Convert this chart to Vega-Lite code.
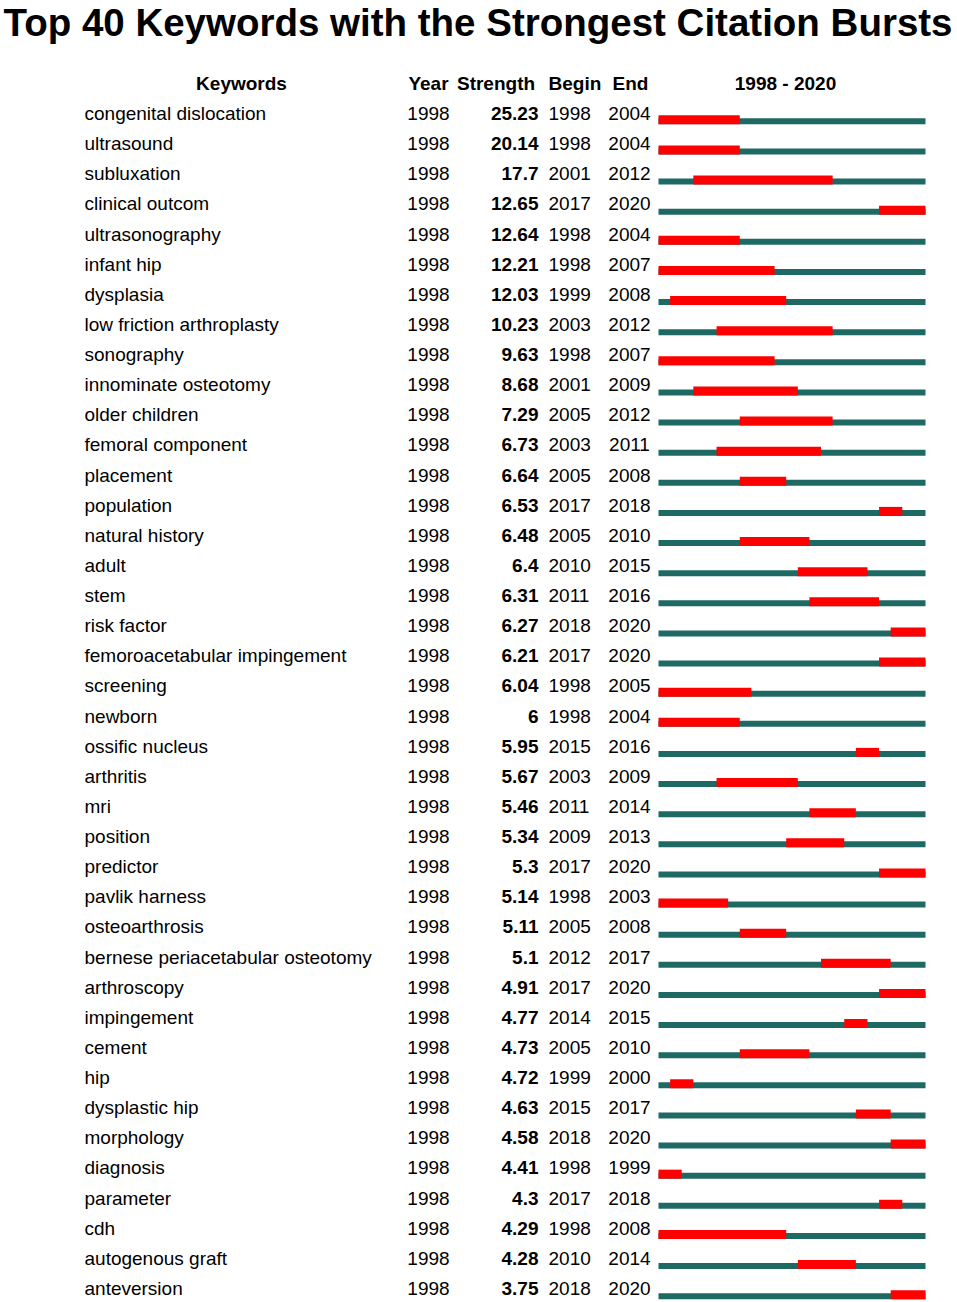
{
  "$schema": "https://vega.github.io/schema/vega-lite/v6.json",
  "padding": {"left": 2.5, "top": 4, "right": 0, "bottom": 0},
  "title": {"text": "Top 40 Keywords with the Strongest Citation Bursts", "font": "Liberation Sans", "fontSize": 38.5, "fontWeight": "bold", "color": "#000000", "anchor": "middle", "dx": -27, "offset": 31},
  "data": {"values": [
    {"Keyword": "congenital dislocation", "Year": 1998, "Strength": "25.23", "Begin": 1998, "End": 2004},
    {"Keyword": "ultrasound", "Year": 1998, "Strength": "20.14", "Begin": 1998, "End": 2004},
    {"Keyword": "subluxation", "Year": 1998, "Strength": "17.7", "Begin": 2001, "End": 2012},
    {"Keyword": "clinical outcom", "Year": 1998, "Strength": "12.65", "Begin": 2017, "End": 2020},
    {"Keyword": "ultrasonography", "Year": 1998, "Strength": "12.64", "Begin": 1998, "End": 2004},
    {"Keyword": "infant hip", "Year": 1998, "Strength": "12.21", "Begin": 1998, "End": 2007},
    {"Keyword": "dysplasia", "Year": 1998, "Strength": "12.03", "Begin": 1999, "End": 2008},
    {"Keyword": "low friction arthroplasty", "Year": 1998, "Strength": "10.23", "Begin": 2003, "End": 2012},
    {"Keyword": "sonography", "Year": 1998, "Strength": "9.63", "Begin": 1998, "End": 2007},
    {"Keyword": "innominate osteotomy", "Year": 1998, "Strength": "8.68", "Begin": 2001, "End": 2009},
    {"Keyword": "older children", "Year": 1998, "Strength": "7.29", "Begin": 2005, "End": 2012},
    {"Keyword": "femoral component", "Year": 1998, "Strength": "6.73", "Begin": 2003, "End": 2011},
    {"Keyword": "placement", "Year": 1998, "Strength": "6.64", "Begin": 2005, "End": 2008},
    {"Keyword": "population", "Year": 1998, "Strength": "6.53", "Begin": 2017, "End": 2018},
    {"Keyword": "natural history", "Year": 1998, "Strength": "6.48", "Begin": 2005, "End": 2010},
    {"Keyword": "adult", "Year": 1998, "Strength": "6.4", "Begin": 2010, "End": 2015},
    {"Keyword": "stem", "Year": 1998, "Strength": "6.31", "Begin": 2011, "End": 2016},
    {"Keyword": "risk factor", "Year": 1998, "Strength": "6.27", "Begin": 2018, "End": 2020},
    {"Keyword": "femoroacetabular impingement", "Year": 1998, "Strength": "6.21", "Begin": 2017, "End": 2020},
    {"Keyword": "screening", "Year": 1998, "Strength": "6.04", "Begin": 1998, "End": 2005},
    {"Keyword": "newborn", "Year": 1998, "Strength": "6", "Begin": 1998, "End": 2004},
    {"Keyword": "ossific nucleus", "Year": 1998, "Strength": "5.95", "Begin": 2015, "End": 2016},
    {"Keyword": "arthritis", "Year": 1998, "Strength": "5.67", "Begin": 2003, "End": 2009},
    {"Keyword": "mri", "Year": 1998, "Strength": "5.46", "Begin": 2011, "End": 2014},
    {"Keyword": "position", "Year": 1998, "Strength": "5.34", "Begin": 2009, "End": 2013},
    {"Keyword": "predictor", "Year": 1998, "Strength": "5.3", "Begin": 2017, "End": 2020},
    {"Keyword": "pavlik harness", "Year": 1998, "Strength": "5.14", "Begin": 1998, "End": 2003},
    {"Keyword": "osteoarthrosis", "Year": 1998, "Strength": "5.11", "Begin": 2005, "End": 2008},
    {"Keyword": "bernese periacetabular osteotomy", "Year": 1998, "Strength": "5.1", "Begin": 2012, "End": 2017},
    {"Keyword": "arthroscopy", "Year": 1998, "Strength": "4.91", "Begin": 2017, "End": 2020},
    {"Keyword": "impingement", "Year": 1998, "Strength": "4.77", "Begin": 2014, "End": 2015},
    {"Keyword": "cement", "Year": 1998, "Strength": "4.73", "Begin": 2005, "End": 2010},
    {"Keyword": "hip", "Year": 1998, "Strength": "4.72", "Begin": 1999, "End": 2000},
    {"Keyword": "dysplastic hip", "Year": 1998, "Strength": "4.63", "Begin": 2015, "End": 2017},
    {"Keyword": "morphology", "Year": 1998, "Strength": "4.58", "Begin": 2018, "End": 2020},
    {"Keyword": "diagnosis", "Year": 1998, "Strength": "4.41", "Begin": 1998, "End": 1999},
    {"Keyword": "parameter", "Year": 1998, "Strength": "4.3", "Begin": 2017, "End": 2018},
    {"Keyword": "cdh", "Year": 1998, "Strength": "4.29", "Begin": 1998, "End": 2008},
    {"Keyword": "autogenous graft", "Year": 1998, "Strength": "4.28", "Begin": 2010, "End": 2014},
    {"Keyword": "anteversion", "Year": 1998, "Strength": "3.75", "Begin": 2018, "End": 2020}
  ]},
  "spacing": 0,
  "hconcat": [
    {
      "width": 319, "height": 1205,
      "title": {"text": "Keywords", "anchor": "middle", "dx": -2.5},
      "mark": {"type": "text", "align": "left", "baseline": "middle"},
      "encoding": {
        "y": {"field": "Keyword", "type": "nominal", "sort": null, "axis": null},
        "x": {"datum": 0, "type": "quantitative", "scale": {"domain": [0, 1]}, "axis": null},
        "text": {"field": "Keyword", "type": "nominal"}
      }
    },
    {
      "width": 50, "height": 1205,
      "title": {"text": "Year", "anchor": "middle"},
      "mark": {"type": "text", "align": "center", "baseline": "middle"},
      "encoding": {
        "y": {"field": "Keyword", "type": "nominal", "sort": null, "axis": null},
        "x": {"datum": 0.5, "type": "quantitative", "scale": {"domain": [0, 1]}, "axis": null},
        "text": {"field": "Year", "type": "nominal"}
      }
    },
    {
      "width": 85, "height": 1205,
      "title": {"text": "Strength", "anchor": "middle"},
      "mark": {"type": "text", "align": "right", "baseline": "middle", "fontWeight": "bold"},
      "encoding": {
        "y": {"field": "Keyword", "type": "nominal", "sort": null, "axis": null},
        "x": {"datum": 1, "type": "quantitative", "scale": {"domain": [0, 1]}, "axis": null},
        "text": {"field": "Strength", "type": "nominal"}
      }
    },
    {
      "width": 66, "height": 1205,
      "title": {"text": "Begin", "anchor": "start", "dx": 10},
      "mark": {"type": "text", "align": "left", "baseline": "middle", "dx": 10},
      "encoding": {
        "y": {"field": "Keyword", "type": "nominal", "sort": null, "axis": null},
        "x": {"datum": 0, "type": "quantitative", "scale": {"domain": [0, 1]}, "axis": null},
        "text": {"field": "Begin", "type": "nominal"}
      }
    },
    {
      "width": 54, "height": 1205,
      "title": {"text": "End", "anchor": "middle", "dx": -1},
      "mark": {"type": "text", "align": "center", "baseline": "middle", "dx": -2},
      "encoding": {
        "y": {"field": "Keyword", "type": "nominal", "sort": null, "axis": null},
        "x": {"datum": 0.5, "type": "quantitative", "scale": {"domain": [0, 1]}, "axis": null},
        "text": {"field": "End", "type": "nominal"}
      }
    },
    {
      "width": 267, "height": 1205,
      "title": {"text": "1998 - 2020", "anchor": "middle", "dx": -6.5},
      "layer": [
        {
          "mark": {"type": "bar", "height": 6, "yOffset": 7.2, "color": "#1e6964"},
          "encoding": {
            "y": {"field": "Keyword", "type": "nominal", "sort": null, "axis": null, "scale": {"paddingInner": 0, "paddingOuter": 0}}
          }
        },
        {
          "mark": {"type": "bar", "height": 9, "yOffset": 5.7, "color": "#ff0000"},
          "encoding": {
            "y": {"field": "Keyword", "type": "nominal", "sort": null, "axis": null, "scale": {"paddingInner": 0, "paddingOuter": 0}},
            "x": {"field": "Begin", "type": "ordinal", "bandPosition": 0, "axis": null, "scale": {"domain": [1998, 1999, 2000, 2001, 2002, 2003, 2004, 2005, 2006, 2007, 2008, 2009, 2010, 2011, 2012, 2013, 2014, 2015, 2016, 2017, 2018, 2019, 2020], "paddingInner": 0, "paddingOuter": 0}},
            "x2": {"field": "End", "bandPosition": 1}
          }
        }
      ]
    }
  ],
  "config": {
    "view": {"stroke": null},
    "font": "Liberation Sans",
    "text": {"font": "Liberation Sans", "fontSize": 19, "color": "#000000"},
    "title": {"font": "Liberation Sans", "fontSize": 19, "fontWeight": "bold", "color": "#000000", "baseline": "alphabetic", "offset": 5}
  }
}
